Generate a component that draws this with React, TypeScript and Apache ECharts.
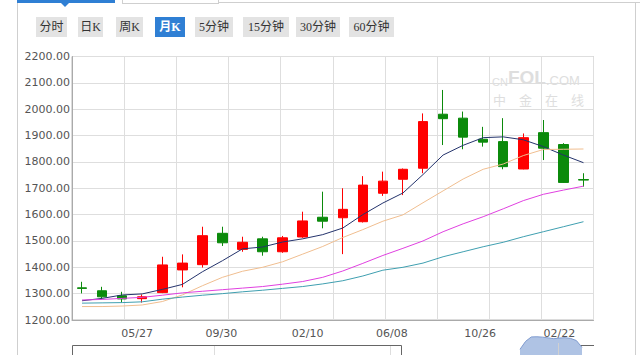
import React, { useEffect, useRef } from 'react';
import * as echarts from 'echarts';

// ---- data ----
const categories = ['01', '02', '03', '04', '05', '06', '07', '08', '09', '10', '11', '12', '13',
  '14', '15', '16', '17', '18', '19', '20', '21', '22', '23', '24', '25', '26'];

const opens = [1322, 1311, 1292, 1281, 1304, 1390, 1410, 1529, 1468, 1508, 1459, 1515, 1590,
  1588, 1573, 1681, 1734, 1776, 1981, 1966, 1886, 1877, 1773, 1911, 1866, 1733];
const closes = [1320, 1288, 1280, 1288, 1409, 1416, 1520, 1493, 1495, 1459, 1512, 1576, 1575,
  1620, 1712, 1727, 1772, 1953, 1964, 1894, 1875, 1782, 1892, 1852, 1722, 1731];
const lows = [1301, 1282, 1266, 1266, 1302, 1324, 1399, 1481, 1459, 1444, 1455, 1512, 1548,
  1450, 1570, 1671, 1674, 1757, 1864, 1848, 1858, 1772, 1772, 1807, 1720, 1706];
const highs = [1345, 1326, 1307, 1297, 1440, 1449, 1554, 1554, 1516, 1516, 1519, 1611, 1687,
  1700, 1746, 1763, 1775, 1984, 2073, 1991, 1933, 1966, 1908, 1959, 1871, 1757];

const ma5 = [1273, 1282, 1295, 1299, 1316, 1335, 1383, 1425, 1470, 1477, 1496, 1508, 1524,
  1549, 1600, 1644, 1682, 1752, 1826, 1863, 1892, 1895, 1884, 1858, 1826, 1797];
const ma10 = [1251, 1251, 1253, 1257, 1270, 1295, 1330, 1362, 1385, 1400, 1421, 1450, 1479,
  1513, 1543, 1575, 1599, 1645, 1690, 1735, 1772, 1792, 1824, 1847, 1848, 1849];
const ma20 = [1276, 1278, 1282, 1286, 1294, 1303, 1309, 1315, 1321, 1327, 1336, 1346, 1362,
  1386, 1415, 1445, 1472, 1500, 1535, 1565, 1592, 1622, 1653, 1677, 1693, 1708];
const ma30 = [1264, 1265, 1266, 1269, 1279, 1287, 1294, 1300, 1307, 1313, 1320, 1327, 1337,
  1349, 1367, 1389, 1400, 1416, 1440, 1459, 1478, 1495, 1516, 1535, 1554, 1573];

const yMin = 1200;
const yMax = 2200;
const yStep = 100;

const xTickLabels = ['05/27', '09/30', '02/10', '06/08', '10/26', '02/22'];
const xTickPos = [2.75, 6.95, 11.25, 15.45, 19.85, 23.8];

const navCategories = ['a', 'b', 'c', 'd', 'e', 'f', 'g', 'h', 'i', 'j', 'k', 'l'];
const navValues = [30, 72, 95, 96, 94, 90, 86, 89, 91, 87, 76, 40];

const periods = ['分时', '日K', '周K', '月K', '5分钟', '15分钟', '30分钟', '60分钟'];
const activePeriod = '月K';

// ---- layout (not data) ----
const buttonLefts = [36, 78, 116, 155, 195, 243, 296, 349];
const buttonWidths = [31, 25, 27, 30, 38, 46, 44, 45];

export default function App() {
  const ref = useRef<HTMLDivElement>(null);

  useEffect(() => {
    if (!ref.current) return;
    const chart = echarts.init(ref.current, undefined, { renderer: 'svg' });
    const candleData = opens.map((o, i) => [o, closes[i], lows[i], highs[i]]);
    const font = 'DejaVu Sans';
    const maLine = (name: string, data: number[], color: string) => ({
      name,
      type: 'line',
      xAxisIndex: 0,
      yAxisIndex: 0,
      data,
      symbol: 'none',
      smooth: false,
      lineStyle: { color, width: 1 },
      z: 3,
    });
    const wm = '#dedede';
    const option: any = {
      animation: false,
      textStyle: { fontFamily: font },
      grid: [
        {
          left: 72, right: 46.5, top: 56.5, height: 263.5,
          show: true, borderColor: '#b8b8b8', borderWidth: 1, backgroundColor: 'transparent',
        },
        { left: 520, top: 336, width: 62, height: 40 },
      ],
      xAxis: [
        {
          type: 'category', gridIndex: 0, position: 'bottom', data: categories, boundaryGap: true,
          axisLine: { show: true, lineStyle: { color: '#aaaaaa' } },
          axisTick: { show: false }, axisLabel: { show: false }, splitLine: { show: false },
        },
        {
          type: 'value', gridIndex: 0, position: 'bottom', min: 0, max: 10, interval: 1,
          axisLine: { show: false }, axisTick: { show: false }, axisLabel: { show: false },
          splitLine: { show: true, lineStyle: { color: '#dedede', width: 1 } },
        },
        {
          type: 'value', gridIndex: 0, position: 'bottom', min: -0.5, max: 25.5,
          axisLine: { show: false }, axisTick: { show: false }, splitLine: { show: false },
          axisLabel: {
            customValues: xTickPos,
            formatter: (v: number) => {
              let best = 0;
              xTickPos.forEach((p, i) => { if (Math.abs(p - v) < Math.abs(xTickPos[best] - v)) best = i; });
              return xTickLabels[best];
            },
            color: '#555555', fontSize: 11, margin: 8, fontFamily: font,
          },
        },
        {
          type: 'category', gridIndex: 1, data: navCategories, boundaryGap: false, show: false,
        },
      ],
      yAxis: [
        {
          type: 'value', gridIndex: 0, min: yMin, max: yMax, interval: yStep,
          axisLine: { show: true, lineStyle: { color: '#aaaaaa' } },
          axisTick: { show: false },
          axisLabel: {
            formatter: (v: number) => v.toFixed(2),
            color: '#555555', fontSize: 11, margin: 2, fontFamily: font,
          },
          splitLine: { show: true, lineStyle: { color: '#dedede', width: 1 } },
        },
        { type: 'value', gridIndex: 1, min: 0, max: 100, show: false, splitLine: { show: false } },
      ],
      series: [
        {
          name: 'K',
          type: 'candlestick',
          xAxisIndex: 0,
          yAxisIndex: 0,
          data: candleData,
          barWidth: 10,
          itemStyle: {
            color: '#ff0000', color0: '#0b8a0b',
            borderColor: '#ff0000', borderColor0: '#0b8a0b', borderWidth: 1,
          },
          z: 2,
        },
        maLine('MA5', ma5, '#24336c'),
        maLine('MA10', ma10, '#f0be90'),
        maLine('MA20', ma20, '#e040e0'),
        maLine('MA30', ma30, '#3f9fb0'),
        {
          name: 'nav',
          type: 'line',
          xAxisIndex: 3,
          yAxisIndex: 1,
          data: navValues,
          symbol: 'none',
          lineStyle: { color: '#7f9bcf', width: 1 },
          areaStyle: { color: '#afc3e4', opacity: 1 },
        },
      ],
      graphic: [
        {
          type: 'text', left: 492, top: 68, z: 1, silent: true,
          style: {
            text: '{a|CN}{b|FOL}{c|.COM}',
            rich: {
              a: { fontSize: 11, fontFamily: 'Liberation Sans', fill: wm, verticalAlign: 'bottom' },
              b: { fontSize: 19, fontWeight: 'bold', fontFamily: 'Liberation Sans', fill: wm, verticalAlign: 'bottom' },
              c: { fontSize: 13, fontFamily: 'Liberation Sans', fill: wm, verticalAlign: 'bottom' },
            },
          },
        },
        {
          type: 'text', left: 493, top: 93, z: 1, silent: true,
          style: { text: '中　金　在　线', fontSize: 13, fontFamily: 'Noto Sans CJK SC', fill: wm },
        },
        {
          type: 'rect', silent: true,
          shape: { x: 72.5, y: 345.5, width: 329, height: 30 },
          style: { fill: 'none', stroke: '#666666', lineWidth: 1 },
        },
        {
          type: 'line', silent: true,
          shape: { x1: 214.5, y1: 346, x2: 214.5, y2: 360 },
          style: { stroke: '#dddddd', lineWidth: 1 },
        },
        {
          type: 'line', silent: true,
          shape: { x1: 390.5, y1: 346, x2: 390.5, y2: 360 },
          style: { stroke: '#dddddd', lineWidth: 1 },
        },
        {
          type: 'line', silent: true, z: 10,
          shape: { x1: 558.5, y1: 343, x2: 558.5, y2: 360 },
          style: { stroke: '#d0d0d0', lineWidth: 1 },
        },
        {
          type: 'polyline', silent: true,
          shape: { points: [[580.5, 360], [580.5, 345.5], [594, 345.5]] },
          style: { fill: 'none', stroke: '#666666', lineWidth: 1 },
        },
      ],
    };
    chart.setOption(option);
    return () => chart.dispose();
  }, []);

  return (
    <div
      style={{
        position: 'fixed', left: 0, top: 0, width: 640, height: 355,
        background: '#ffffff', overflow: 'hidden',
      }}
    >
      {/* frame lines */}
      <div style={{ position: 'absolute', left: 17, top: 0, width: 1, height: 355, background: '#cfcfcf' }} />
      <div style={{ position: 'absolute', left: 635, top: 2, width: 1, height: 353, background: '#cfcfcf' }} />
      <div style={{ position: 'absolute', left: 218, top: 2, width: 422, height: 1, background: '#cfcfcf' }} />
      {/* tabs */}
      <div style={{ position: 'absolute', left: 17, top: 0, width: 98, height: 3, background: '#2f7fd4' }} />
      <div
        style={{
          position: 'absolute', left: 61, top: 3, width: 0, height: 0,
          borderLeft: '4px solid transparent', borderRight: '4px solid transparent',
          borderTop: '4px solid #2f7fd4',
        }}
      />
      <div
        style={{
          position: 'absolute', left: 122, top: -10, width: 95, height: 12,
          border: '1px solid #cfcfcf', background: '#ffffff',
        }}
      />
      {/* period buttons */}
      {periods.map((p, i) => {
        const active = p === activePeriod;
        return (
          <div
            key={p}
            style={{
              position: 'absolute', left: buttonLefts[i], top: 17, width: buttonWidths[i], height: 20,
              lineHeight: '20px', fontSize: 12, textAlign: 'center', whiteSpace: 'nowrap',
              fontFamily: '"Liberation Serif", "Noto Sans CJK SC", serif',
              background: active ? '#2f7fd4' : '#e3e3e3',
              color: active ? '#ffffff' : '#333333',
              fontWeight: active ? 'bold' : 'normal',
            }}
          >
            {p}
          </div>
        );
      })}
      <div ref={ref} style={{ position: 'absolute', left: 0, top: 0, width: 640, height: 355 }} />
    </div>
  );
}
